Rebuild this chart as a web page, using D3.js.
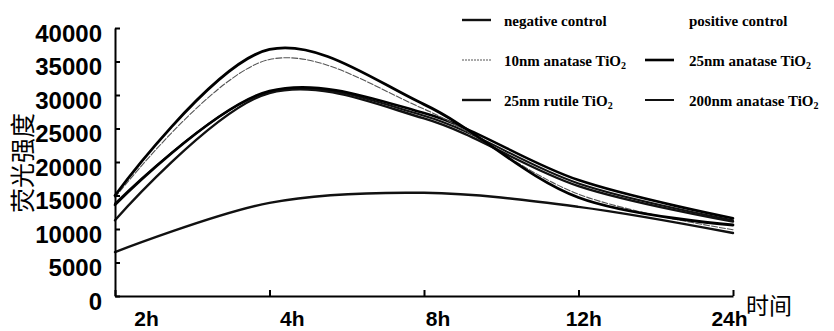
<!DOCTYPE html>
<html>
<head>
<meta charset="utf-8">
<script src="https://cdn.jsdelivr.net/npm/d3@7"></script>
<style>
  body { margin: 0; background: #fff; }
  svg { display: block; background: #fff; }
</style>
</head>
<body>
<svg id="chart" width="834" height="331"></svg>
<script>
// values
const timePoints = ['2h', '4h', '8h', '12h', '24h'];
const yTicks = [0, 5000, 10000, 15000, 20000, 25000, 30000, 35000, 40000];

const negativeControl = [6550, 13900, 15400, 13300, 9400];
const positiveControl = [15000, 36800, 28600, 14700, 10600];
const anatase10 = [14700, 35300, 27900, 15200, 9900];
const anatase25 = [13600, 30600, 27300, 17300, 11600];
const rutile25 = [11300, 30300, 26500, 16400, 11100];
const anatase200 = [13800, 30500, 26900, 16800, 11300];

const seriesNames = ['negative control', 'positive control', '10nm anatase TiO2',
  '25nm anatase TiO2', '25nm rutile TiO2', '200nm anatase TiO2'];

let series = [
  {name: seriesNames[0], values: negativeControl, width: 2.4, color: '#111', dash: null, key: true},
  {name: seriesNames[1], values: positiveControl, width: 2.8, color: '#000', dash: null, key: false},
  {name: seriesNames[2], values: anatase10, width: 1.1, color: '#555', dash: '6,2', key: true},
  {name: seriesNames[3], values: anatase25, width: 2.6, color: '#000', dash: null, key: true},
  {name: seriesNames[4], values: rutile25, width: 2.4, color: '#111', dash: null, key: true},
  {name: seriesNames[5], values: anatase200, width: 2, color: '#111', dash: null, key: true}
];

let svg = d3.select('#chart'),
  x = d3.scalePoint().domain(timePoints).range([115, 733]),
  xLabel = d3.scalePoint().domain(timePoints).range([146, 729]),
  y = d3.scaleLinear().domain([0, 40000]).range([296, 28]);

// curves
let lineFun = d3.line()
  .x((d, i) => x(timePoints[i]))
  .y(d => y(d))
  .curve(d3.curveCatmullRom.alpha(0.5));

let drawOrder = [0, 5, 4, 3, 2, 1];
svg.append('g')
  .selectAll('path')
  .data(drawOrder.map(i => series[i]))
  .enter()
  .append('path')
  .attr('d', d => lineFun(d.values))
  .attr('fill', 'none')
  .attr('stroke', d => d.color)
  .attr('stroke-width', d => d.width)
  .attr('stroke-dasharray', d => d.dash)
  .attr('stroke-linecap', 'round');

// y axis, ticks pointing inward
let yAxis = svg.append('g')
  .attr('transform', 'translate(115,0)')
  .call(d3.axisLeft(y).tickValues(yTicks).tickSizeInner(-5).tickSizeOuter(0)
    .tickPadding(13).tickFormat(d3.format('d')));
yAxis.select('.domain').attr('stroke-width', 2);
yAxis.selectAll('.tick line').attr('stroke-width', 2);
yAxis.selectAll('.tick text')
  .attr('dy', '0.55em')
  .style('font-family', '"Liberation Sans", Arial, sans-serif')
  .style('font-weight', 'bold')
  .style('font-size', '24px')
  .attr('fill', '#000');

// x axis ticks
let xAxis = svg.append('g')
  .attr('transform', 'translate(0,296)')
  .call(d3.axisBottom(x).tickSizeInner(-6).tickSizeOuter(0).tickFormat(''));
xAxis.select('.domain').attr('stroke-width', 2);
xAxis.selectAll('.tick line').attr('stroke-width', 2);

// x labels sit a bit right of the ticks in the figure
let xLabels = svg.append('g')
  .attr('transform', 'translate(0,296)')
  .call(d3.axisBottom(xLabel).tickSize(0).tickPadding(15));
xLabels.select('.domain').remove();
xLabels.selectAll('.tick text')
  .style('font-family', '"Liberation Sans", Arial, sans-serif')
  .style('font-weight', 'bold')
  .style('font-size', '21px')
  .attr('fill', '#000');

// axis titles
svg.append('text')
  .attr('x', 746)
  .attr('y', 314)
  .style('font-family', '"Noto Sans CJK SC", sans-serif')
  .style('font-size', '23px')
  .text('时间');

svg.append('text')
  .attr('transform', 'translate(21,163) rotate(-90)')
  .attr('text-anchor', 'middle')
  .attr('dominant-baseline', 'central')
  .style('font-family', '"Noto Sans CJK SC", sans-serif')
  .style('font-size', '25px')
  .text('荧光强度');

// legend, 2 columns x 3 rows
let legendRow = d3.scalePoint().domain([0, 1, 2]).range([21, 101]),
  sampleX = [462, 645],
  textX = [504, 689];

let key = svg.append('g')
  .selectAll('g')
  .data(series)
  .enter()
  .append('g')
  .attr('transform', (d, i) => 'translate(0,' + legendRow(Math.floor(i / 2)) + ')');

key.filter(d => d.key)
  .append('line')
  .attr('x1', d => sampleX[series.indexOf(d) % 2])
  .attr('x2', d => sampleX[series.indexOf(d) % 2] + 29)
  .attr('y1', -1)
  .attr('y2', -1)
  .attr('stroke', d => d.color)
  .attr('stroke-width', d => d.width)
  .attr('stroke-dasharray', d => d.dash ? '2,1' : null);

let keyText = key.append('text')
  .attr('x', (d, i) => textX[i % 2])
  .attr('y', 5)
  .style('font-family', '"Liberation Serif", "Times New Roman", serif')
  .style('font-weight', 'bold')
  .style('font-size', '15px');

keyText.each(function(d) {
  let t = d3.select(this);
  if (d.name.endsWith('TiO2')) {
    t.append('tspan').text(d.name.slice(0, -1));
    t.append('tspan').attr('dy', 3).style('font-size', '10px').text('2');
  } else {
    t.text(d.name);
  }
});
</script>
</body>
</html>
